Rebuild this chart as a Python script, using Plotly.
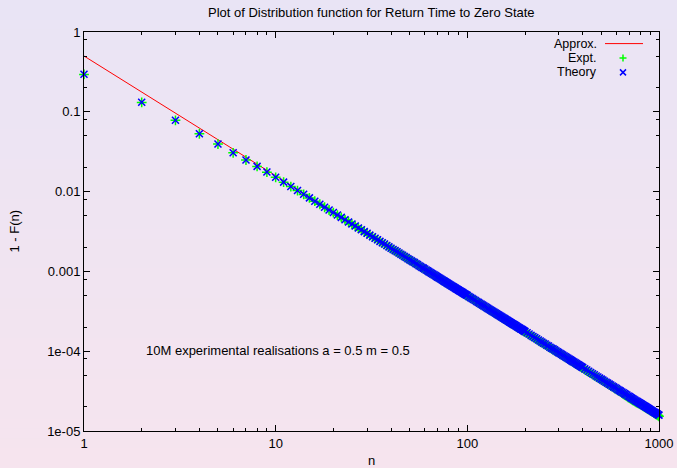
import plotly.graph_objects as go

# ---------------- data ----------------
n_vals = list(range(1, 101)) + list(range(102, 201, 2)) + list(range(205, 401, 5)) \
    + list(range(410, 1001, 10))

theory = [
    # n = 1..30
    0.295, 0.1315, 0.0782, 0.0532, 0.0395, 0.0307, 0.0249, 0.0207, 0.0176, 0.0151,
    0.01315, 0.01158, 0.0103, 0.00924, 0.00835, 0.00759, 0.00695, 0.00638, 0.00589, 0.00546,
    0.00508, 0.00475, 0.00444, 0.00417, 0.00393, 0.00371, 0.0035, 0.00332, 0.00315, 0.003,
    # n = 31..100
    0.00285, 0.00272, 0.0026, 0.00249, 0.00238, 0.00229, 0.0022, 0.00211, 0.00203, 0.00195,
    0.00188, 0.00182, 0.00176, 0.0017, 0.00164, 0.00159, 0.00154, 0.00149, 0.00144, 0.0014,
    0.00136, 0.00132, 0.00129, 0.00125, 0.00122, 0.00118, 0.00115, 0.00112, 0.0011, 0.00107,
    0.00104, 0.00102, 0.000993, 0.00097, 0.000946, 0.000926, 0.000906, 0.000886, 0.000867, 0.000848,
    0.000831, 0.000813, 0.000797, 0.000781, 0.000765, 0.00075, 0.000736, 0.000722, 0.000708, 0.000695,
    0.000682, 0.00067, 0.000658, 0.000646, 0.000635, 0.000624, 0.000613, 0.000603, 0.000592, 0.000583,
    0.000573, 0.000564, 0.000555, 0.000546, 0.000538, 0.000529, 0.000521, 0.000513, 0.000505, 0.000498,
    # n = 102..200 step 2
    0.000483, 0.000469, 0.000456, 0.000444, 0.000432, 0.00042, 0.000409, 0.000399, 0.000389, 0.000379,
    0.00037, 0.000361, 0.000352, 0.000344, 0.000336, 0.000329, 0.000321, 0.000314, 0.000307, 0.000301,
    0.000295, 0.000288, 0.000283, 0.000277, 0.000271, 0.000266, 0.000261, 0.000256, 0.000251, 0.000246,
    0.000242, 0.000237, 0.000233, 0.000229, 0.000225, 0.000221, 0.000217, 0.000214, 0.00021, 0.000207,
    0.000203, 0.0002, 0.000197, 0.000194, 0.00019, 0.000188, 0.000185, 0.000182, 0.000179, 0.000176,
    # n = 205..400 step 5
    0.00017, 0.000164, 0.000158, 0.000153, 0.000148, 0.000143, 0.000138, 0.000134, 0.00013, 0.000126,
    0.000123, 0.000119, 0.000116, 0.000112, 0.000109, 0.000107, 0.000104, 0.000101, 9.85e-5, 9.6e-5,
    9.37e-5, 9.14e-5, 8.93e-5, 8.72e-5, 8.52e-5, 8.33e-5, 8.14e-5, 7.96e-5, 7.79e-5, 7.62e-5,
    7.46e-5, 7.31e-5, 7.16e-5, 7.01e-5, 6.87e-5, 6.74e-5, 6.61e-5, 6.48e-5, 6.36e-5, 6.24e-5,
    # n = 410..1000 step 10
    6.01e-5, 5.8e-5, 5.6e-5, 5.41e-5, 5.23e-5, 5.06e-5, 4.9e-5, 4.75e-5, 4.6e-5, 4.47e-5,
    4.34e-5, 4.21e-5, 4.09e-5, 3.98e-5, 3.87e-5, 3.77e-5, 3.67e-5, 3.57e-5, 3.48e-5, 3.4e-5,
    3.31e-5, 3.23e-5, 3.16e-5, 3.08e-5, 3.01e-5, 2.94e-5, 2.88e-5, 2.82e-5, 2.75e-5, 2.7e-5,
    2.64e-5, 2.58e-5, 2.53e-5, 2.48e-5, 2.43e-5, 2.38e-5, 2.34e-5, 2.29e-5, 2.25e-5, 2.21e-5,
    2.17e-5, 2.13e-5, 2.09e-5, 2.05e-5, 2.02e-5, 1.98e-5, 1.95e-5, 1.91e-5, 1.88e-5, 1.85e-5,
    1.82e-5, 1.79e-5, 1.76e-5, 1.73e-5, 1.71e-5, 1.68e-5, 1.65e-5, 1.63e-5, 1.6e-5, 1.58e-5,
]

expt = [
    # n = 1..30
    0.294, 0.1312, 0.0781, 0.0531, 0.0394, 0.0306, 0.0249, 0.0207, 0.0175, 0.0151,
    0.01312, 0.01157, 0.0103, 0.00922, 0.00834, 0.00758, 0.00694, 0.00637, 0.00588, 0.00545,
    0.00507, 0.00474, 0.00443, 0.00416, 0.00392, 0.0037, 0.00349, 0.00331, 0.00314, 0.00299,
    # n = 31..100
    0.00284, 0.00271, 0.00259, 0.00248, 0.00237, 0.00228, 0.00218, 0.0021, 0.00202, 0.00194,
    0.00187, 0.00181, 0.00174, 0.00169, 0.00163, 0.00158, 0.00153, 0.00148, 0.00143, 0.00139,
    0.00135, 0.00131, 0.00128, 0.00124, 0.00121, 0.00117, 0.00115, 0.00111, 0.00109, 0.00106,
    0.00103, 0.00101, 0.000986, 0.000963, 0.00094, 0.00092, 0.0009, 0.00088, 0.000861, 0.000842,
    0.000825, 0.000807, 0.000792, 0.000775, 0.00076, 0.000745, 0.000731, 0.000717, 0.000703, 0.00069,
    0.000677, 0.000665, 0.000653, 0.000641, 0.000631, 0.00062, 0.000609, 0.000599, 0.000588, 0.000579,
    0.000569, 0.00056, 0.000551, 0.000542, 0.000534, 0.000525, 0.000517, 0.000509, 0.000501, 0.000494,
    # n = 102..200 step 2
    0.000479, 0.000465, 0.000452, 0.00044, 0.000428, 0.000416, 0.000405, 0.000395, 0.000385, 0.000376,
    0.000366, 0.000357, 0.000349, 0.000341, 0.000333, 0.000326, 0.000318, 0.000311, 0.000304, 0.000298,
    0.000292, 0.000285, 0.00028, 0.000274, 0.000268, 0.000263, 0.000258, 0.000253, 0.000248, 0.000243,
    0.000239, 0.000235, 0.00023, 0.000227, 0.000222, 0.000219, 0.000215, 0.000212, 0.000208, 0.000204,
    0.000201, 0.000198, 0.000195, 0.000192, 0.000188, 0.000186, 0.000183, 0.00018, 0.000177, 0.000174,
    # n = 205..400 step 5
    0.000168, 0.000162, 0.000156, 0.000151, 0.000146, 0.000141, 0.000136, 0.000132, 0.000128, 0.000124,
    0.000121, 0.000117, 0.000114, 0.00011, 0.000107, 0.000105, 0.000102, 9.96e-5, 9.72e-5, 9.45e-5,
    9.23e-5, 9.0e-5, 8.8e-5, 8.6e-5, 8.4e-5, 8.2e-5, 8.02e-5, 7.84e-5, 7.67e-5, 7.5e-5,
    7.35e-5, 7.2e-5, 7.05e-5, 6.9e-5, 6.77e-5, 6.63e-5, 6.51e-5, 6.38e-5, 6.26e-5, 6.14e-5,
    # n = 410..1000 step 10
    5.9e-5, 5.69e-5, 5.49e-5, 5.3e-5, 5.13e-5, 4.96e-5, 4.8e-5, 4.66e-5, 4.51e-5, 4.38e-5,
    4.25e-5, 4.13e-5, 4.01e-5, 3.9e-5, 3.79e-5, 3.69e-5, 3.6e-5, 3.5e-5, 3.41e-5, 3.33e-5,
    3.24e-5, 3.17e-5, 3.09e-5, 3.01e-5, 2.9e-5, 2.83e-5, 2.77e-5, 2.71e-5, 2.64e-5, 2.59e-5,
    2.53e-5, 2.48e-5, 2.43e-5, 2.38e-5, 2.33e-5, 2.29e-5, 2.25e-5, 2.22e-5, 2.19e-5, 2.15e-5,
    2.12e-5, 2.08e-5, 2.04e-5, 2.0e-5, 1.97e-5, 1.94e-5, 1.9e-5, 1.87e-5, 1.84e-5, 1.81e-5,
    1.78e-5, 1.75e-5, 1.72e-5, 1.69e-5, 1.67e-5, 1.64e-5, 1.61e-5, 1.59e-5, 1.56e-5, 1.53e-5,
]

approx_n = [1, 1000]
approx_val = [0.5, 1.58e-5]

x_tickvals = [1, 10, 100, 1000]
x_ticktext = ["1", "10", "100", "1000"]
y_tickvals = [1, 0.1, 0.01, 0.001, 1e-4, 1e-5]
y_ticktext = ["1", "0.1", "0.01", "0.001", "1e-04", "1e-05"]

title_text = "Plot of Distribution function for Return Time to Zero State"
label_text = "10M experimental realisations a = 0.5 m = 0.5"
legend_names = ["Approx.", "Expt.", "Theory"]

assert len(n_vals) == len(theory) == len(expt), (len(n_vals), len(theory), len(expt))

# ---------------- layout geometry ----------------
W, H = 677, 468
L, R, T, B = 84, 18, 32, 37
pw, ph = W - L - R, H - T - B

def px(x):
    return (x - L) / pw

def py(y):
    return (H - B - y) / ph

RED, GREEN, BLUE = "#ff0000", "#00ff00", "#0000ff"
FONT = "Liberation Sans, Arial, Helvetica, sans-serif"
FS = 13
LEG_FS = 12.5

fig = go.Figure()
fig.add_trace(go.Scatter(x=approx_n, y=approx_val, mode="lines",
                         line=dict(color=RED, width=1), name=legend_names[0], showlegend=False))
fig.add_trace(go.Scatter(x=n_vals, y=expt, mode="markers", name=legend_names[1], showlegend=False,
                         cliponaxis=False,
                         marker=dict(symbol="cross-thin", size=7, line=dict(color=GREEN, width=1.5))))
fig.add_trace(go.Scatter(x=n_vals, y=theory, mode="markers", name=legend_names[2], showlegend=False,
                         cliponaxis=False,
                         marker=dict(symbol="x-thin", size=7, line=dict(color=BLUE, width=1.5))))

# gradient background strips
shapes = []
top_c = (233, 228, 245)
bot_c = (246, 228, 238)
nstrips = 47
for i in range(nstrips):
    y0 = i * H / nstrips
    y1 = (i + 1) * H / nstrips + 0.6
    t = (i + 0.5) / nstrips
    c = tuple(round(top_c[k] + (bot_c[k] - top_c[k]) * t) for k in range(3))
    shapes.append(dict(type="rect", xref="paper", yref="paper", layer="below",
                       x0=px(0), x1=px(W), y0=py(y1), y1=py(y0),
                       line=dict(width=0), fillcolor="rgb(%d,%d,%d)" % c))

# legend keys (manual, gnuplot style: text then sample)
leg_rows = [43.6, 58, 72.4]
shapes.append(dict(type="line", xref="paper", yref="paper", x0=px(605), x1=px(643),
                   y0=py(leg_rows[0]), y1=py(leg_rows[0]), line=dict(color=RED, width=1)))
cx = 623
shapes.append(dict(type="line", xref="paper", yref="paper", x0=px(cx - 3.5), x1=px(cx + 3.5),
                   y0=py(leg_rows[1]), y1=py(leg_rows[1]), line=dict(color=GREEN, width=1.5)))
shapes.append(dict(type="line", xref="paper", yref="paper", x0=px(cx), x1=px(cx),
                   y0=py(leg_rows[1] - 3.5), y1=py(leg_rows[1] + 3.5), line=dict(color=GREEN, width=1.5)))
shapes.append(dict(type="line", xref="paper", yref="paper", x0=px(cx - 3), x1=px(cx + 3),
                   y0=py(leg_rows[2] - 3), y1=py(leg_rows[2] + 3), line=dict(color=BLUE, width=1.5)))
shapes.append(dict(type="line", xref="paper", yref="paper", x0=px(cx - 3), x1=px(cx + 3),
                   y0=py(leg_rows[2] + 3), y1=py(leg_rows[2] - 3), line=dict(color=BLUE, width=1.5)))

annotations = []
for name, yy in zip(legend_names, leg_rows):
    annotations.append(dict(text=name, xref="paper", yref="paper", x=px(598), y=py(yy),
                            xanchor="right", yanchor="middle", showarrow=False, borderpad=0,
                            font=dict(size=LEG_FS, color="#000", family=FONT)))
annotations.append(dict(text=label_text, xref="paper", yref="paper", x=px(144), y=py(350),
                        xanchor="left", yanchor="middle", showarrow=False,
                        font=dict(size=FS, color="#000", family=FONT)))
annotations.append(dict(text="n", xref="paper", yref="paper", x=0.5, y=py(460),
                        xanchor="center", yanchor="middle", showarrow=False,
                        font=dict(size=FS, color="#000", family=FONT)))
annotations.append(dict(text="1 - F(n)", xref="paper", yref="paper", x=px(14), y=0.5,
                        xanchor="center", yanchor="middle", showarrow=False, textangle=-90,
                        font=dict(size=FS, color="#000", family=FONT)))
annotations.append(dict(text=title_text, xref="paper", yref="paper", x=0.5, y=py(12.5),
                        xanchor="center", yanchor="middle", showarrow=False,
                        font=dict(size=FS, color="#000", family=FONT)))

x_minor = [m * 10 ** k for k in range(3) for m in range(2, 10)]
y_minor = [m * 10.0 ** k for k in range(-5, 0) for m in (2, 5, 8)]

fig.update_layout(
    width=W, height=H, autosize=False,
    margin=dict(l=L, r=R, t=T, b=B, pad=0, autoexpand=False),
    paper_bgcolor="rgb(239,228,242)",
    plot_bgcolor="rgba(0,0,0,0)",
    showlegend=False,
    shapes=shapes,
    annotations=annotations,
    font=dict(family=FONT, size=FS, color="#000"),
    xaxis=dict(type="log", range=[0, 3], showgrid=False, zeroline=False, automargin=False,
               showline=True, linecolor="#000", linewidth=1, mirror="allticks",
               ticks="inside", ticklen=6, tickcolor="#000", tickwidth=1,
               tickvals=x_tickvals, ticktext=x_ticktext,
               tickfont=dict(size=FS, color="#000", family=FONT),
               minor=dict(tickvals=x_minor, ticks="inside", ticklen=3, tickcolor="#000", showgrid=False)),
    yaxis=dict(type="log", range=[-5, 0], showgrid=False, zeroline=False, automargin=False,
               showline=True, linecolor="#000", linewidth=1, mirror="allticks",
               ticks="inside", ticklen=6, tickcolor="#000", tickwidth=1,
               tickvals=y_tickvals, ticktext=y_ticktext,
               tickfont=dict(size=FS, color="#000", family=FONT),
               minor=dict(tickvals=y_minor, ticks="inside", ticklen=3, tickcolor="#000", showgrid=False)),
)

fig.write_html("out.html",
               config={"displayModeBar": False, "responsive": False},
               post_script="document.body.style.margin='0px';"
                           "document.body.style.overflow='hidden';"
                           "document.body.style.background='rgb(239,228,242)';")
